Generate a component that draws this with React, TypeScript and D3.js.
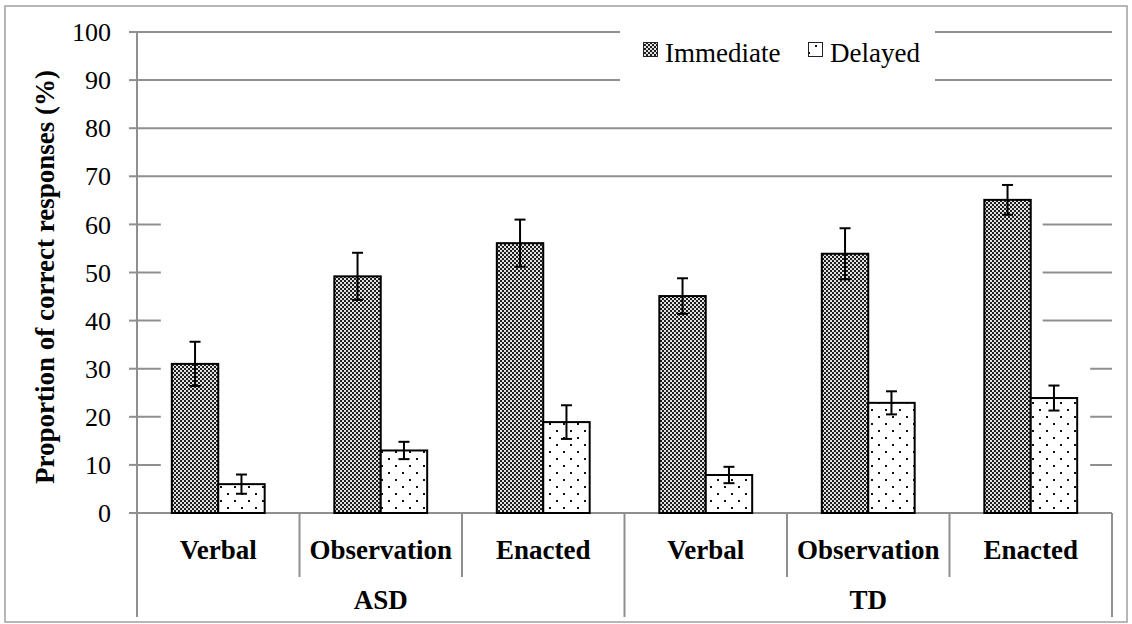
import * as d3 from 'd3';

const categories = ['Verbal', 'Observation', 'Enacted', 'Verbal', 'Observation', 'Enacted'];
const groups = ['ASD', 'TD'];
const series = ['Immediate', 'Delayed'];
const immediate = [31, 49.2, 56.1, 45.1, 53.9, 65.1];
const immediateErr = [4.6, 4.9, 4.9, 3.7, 5.3, 3.1];
const delayed = [6, 13, 18.9, 7.9, 22.9, 23.9];
const delayedErr = [2, 1.8, 3.5, 1.7, 2.4, 2.6];
const yTicks = [0, 10, 20, 30, 40, 50, 60, 70, 80, 90, 100];

const W = 1132;
const H = 624;
const left = 137;
const right = 1112;
const top = 32;
const bottom = 513;
const serif = "'Liberation Serif', 'DejaVu Serif', serif";
const gridColor = '#8f8f8f';

export default function App() {
  const x0 = d3.scaleBand<number>().domain(d3.range(categories.length)).range([left, right]).padding(0);
  const x1 = d3.scaleBand<string>().domain(series).range([0, x0.bandwidth()]).paddingInner(0).paddingOuter(0.75);
  const y = d3.scaleLinear().domain([0, 100]).range([bottom, top]);
  const bw = x1.bandwidth();
  const perGroup = categories.length / groups.length;

  const values = [immediate, delayed];
  const errs = [immediateErr, delayedErr];
  const fills = ['url(#checker)', 'url(#dots)'];

  const last = categories.length - 1;
  // white area behind the bars that hides the gridlines
  const m1x0 = (x0(0) as number) + (x1('Immediate') as number) - 11;
  const m1x1 = (x0(last) as number) + (x1('Immediate') as number) + bw + 12;
  const m1y = y(d3.max(immediate) as number) - 12;
  const m2x1 = (x0(last) as number) + (x1('Delayed') as number) + bw + 13;
  const m2y = y(delayed[last]) - 45;

  const txt = { fontFamily: serif, fill: '#000' };

  return (
    <svg width={W} height={H} style={{ position: 'absolute', left: 0, top: 0, background: '#fff' }}>
      <defs>
        <pattern id="checker" patternUnits="userSpaceOnUse" width={4} height={4}>
          <rect width={4} height={4} fill="#e2e2e2" />
          <rect x={0} y={0} width={2} height={2} fill="#1e1e1e" />
          <rect x={2} y={2} width={2} height={2} fill="#1e1e1e" />
        </pattern>
        <pattern id="dots" patternUnits="userSpaceOnUse" width={14} height={14}>
          <rect width={14} height={14} fill="#fff" />
          <rect x={3} y={3} width={2} height={2} fill="#111" />
          <rect x={10} y={10} width={2} height={2} fill="#111" />
        </pattern>
      </defs>

      <rect x={5} y={6} width={1122} height={616} fill="#fff" stroke="#a0a0a0" strokeWidth={1.5} />

      {/* gridlines */}
      {yTicks.filter((t) => t > 0).map((t) => (
        <line key={t} x1={left} x2={right} y1={y(t)} y2={y(t)} stroke={gridColor} strokeWidth={2} />
      ))}
      <polygon
        points={`${m1x0},${m1y} ${m1x1},${m1y} ${m1x1},${m2y} ${m2x1},${m2y} ${m2x1},${bottom - 1} ${m1x0},${bottom - 1}`}
        fill="#fff"
      />

      {/* legend */}
      <rect x={620} y={22} width={315} height={64} fill="#fff" />
      {series.map((s, i) => {
        const lx = i === 0 ? 643 : 808;
        return (
          <g key={s}>
            <rect x={lx + 0.5} y={42.5} width={14} height={14} fill={fills[i]} stroke="#222" strokeWidth={1} />
            <text x={lx + 22} y={62} style={{ ...txt, fontSize: 27 }}>{s}</text>
          </g>
        );
      })}

      {/* y axis */}
      <line x1={left} x2={left} y1={top} y2={617} stroke={gridColor} strokeWidth={2} />
      {yTicks.map((t) => (
        <g key={t}>
          <line x1={left - 8} x2={left} y1={y(t)} y2={y(t)} stroke={gridColor} strokeWidth={2} />
          <text x={111} y={y(t)} dy="0.35em" textAnchor="end" style={{ ...txt, fontSize: 26 }}>{t}</text>
        </g>
      ))}
      <text
        transform={`translate(45,277) rotate(-90)`}
        textAnchor="middle"
        dy="0.35em"
        style={{ ...txt, fontSize: 27, fontWeight: 'bold' }}
      >
        Proportion of correct responses (%)
      </text>

      {/* category axis */}
      <line x1={left} x2={right} y1={bottom} y2={bottom} stroke={gridColor} strokeWidth={2} />
      {d3.range(categories.length + 1).map((k) => {
        const xx = left + k * x0.step();
        const long = k % perGroup === 0;
        return <line key={k} x1={xx} x2={xx} y1={bottom} y2={long ? 617 : 577} stroke={gridColor} strokeWidth={2} />;
      })}
      {categories.map((c, i) => (
        <text
          key={i}
          x={(x0(i) as number) + x0.bandwidth() / 2}
          y={559}
          textAnchor="middle"
          style={{ ...txt, fontSize: 27, fontWeight: 'bold' }}
        >
          {c}
        </text>
      ))}
      {groups.map((g, gi) => (
        <text
          key={g}
          x={left + (gi + 0.5) * perGroup * x0.step()}
          y={609}
          textAnchor="middle"
          style={{ ...txt, fontSize: 27, fontWeight: 'bold' }}
        >
          {g}
        </text>
      ))}

      {/* bars */}
      {series.map((s, si) => (
        <g key={s}>
          {values[si].map((v, i) => {
            const bx = (x0(i) as number) + (x1(s) as number);
            return (
              <rect
                key={i}
                x={bx}
                y={y(v)}
                width={bw}
                height={bottom - y(v)}
                fill={fills[si]}
                stroke="#000"
                strokeWidth={2}
              />
            );
          })}
        </g>
      ))}

      {/* error bars */}
      {series.map((s, si) => (
        <g key={s} stroke="#000" strokeWidth={2}>
          {values[si].map((v, i) => {
            const cx = (x0(i) as number) + (x1(s) as number) + bw / 2;
            const hi = y(v + errs[si][i]);
            const lo = y(v - errs[si][i]);
            return (
              <g key={i}>
                <line x1={cx} x2={cx} y1={hi} y2={lo} />
                <line x1={cx - 5.5} x2={cx + 5.5} y1={hi} y2={hi} />
                <line x1={cx - 5.5} x2={cx + 5.5} y1={lo} y2={lo} />
              </g>
            );
          })}
        </g>
      ))}
    </svg>
  );
}
